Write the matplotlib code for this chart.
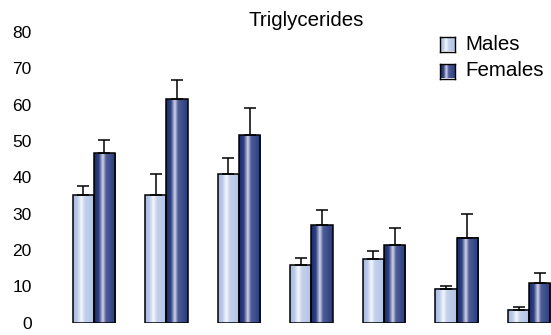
import matplotlib
matplotlib.use("Agg")
import matplotlib.pyplot as plt
import numpy as np
from matplotlib.colors import LinearSegmentedColormap
from matplotlib.patches import Rectangle

plt.rcParams['font.family'] = ['Liberation Sans', 'DejaVu Sans']

groups = ['1', '2', '3', '4', '5', '6', '7']
males = [35.1, 35.1, 40.8, 15.9, 17.4, 9.4, 3.6]
males_err = [2.4, 5.8, 4.6, 1.8, 2.3, 0.8, 0.7]
females = [46.7, 61.5, 51.6, 26.8, 21.3, 23.4, 11.0]
females_err = [3.7, 5.2, 7.4, 4.2, 4.8, 6.6, 2.7]
yticks = [0, 10, 20, 30, 40, 50, 60, 70, 80]

male_cmap = LinearSegmentedColormap.from_list('m', [
    (0.0, '#a6b9e0'), (0.2, '#bccbea'), (0.38, '#f4f7fc'), (0.55, '#c3d1ec'), (1.0, '#b0c2e5')])
female_cmap = LinearSegmentedColormap.from_list('f', [
    (0.0, '#1a2a68'), (0.22, '#2f4283'), (0.4, '#d4d4ea'), (0.55, '#4d5d98'), (1.0, '#2a3b7c')])

fig = plt.figure(figsize=(5.51, 3.35), dpi=100)
ax = fig.add_axes([0.07, 12.3 / 335, 0.93, (322.7 - 32) / 335])

x = np.arange(len(groups))
w = 0.29
grad = np.linspace(0, 1, 64).reshape(1, -1)

def draw(xs, vals, errs, cmap):
    for xi, v, e in zip(xs, vals, errs):
        ax.imshow(grad, cmap=cmap, extent=(xi - w / 2, xi + w / 2, 0, v),
                  aspect='auto', interpolation='bilinear', zorder=2)
        ax.add_patch(Rectangle((xi - w / 2, 0), w, v, fill=False,
                               edgecolor='black', linewidth=1.1, zorder=3))
    ax.errorbar(xs, vals, yerr=[np.zeros(len(vals)), errs], fmt='none',
                ecolor='black', elinewidth=1.1, capsize=4, capthick=1.1, zorder=4)

draw(x - w / 2, males, males_err, male_cmap)
draw(x + w / 2, females, females_err, female_cmap)

ax.set_xlim(-0.764, 6.303)
ax.set_ylim(0, 80)
ax.set_yticks(yticks)
ax.set_xticks([])
ax.tick_params(axis='y', length=0, pad=5, labelsize=12.5)
for s in ax.spines.values():
    s.set_visible(False)

fig.text(306 / 551, 1 - 20 / 335, 'Triglycerides', ha='center', va='center', fontsize=14.8)

# legend
for i, (lab, cmap) in enumerate([('Males', male_cmap), ('Females', female_cmap)]):
    yc = 44 + 27 * i
    lax = fig.add_axes([440 / 551, 1 - (yc + 7.5) / 335, 15 / 551, 15 / 335])
    lax.imshow(grad, cmap=cmap, aspect='auto', extent=(0, 1, 0, 1))
    lax.set_xticks([]); lax.set_yticks([])
    for s in lax.spines.values():
        s.set_linewidth(1.0)
    fig.text(465 / 551, 1 - yc / 335, lab, ha='left', va='center', fontsize=14.8)

fig.savefig('out.png', dpi=100)
